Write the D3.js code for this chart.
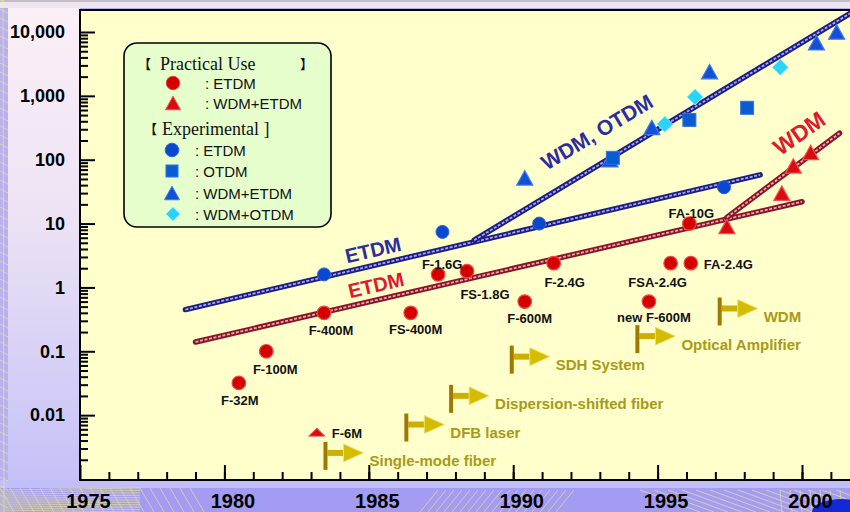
<!DOCTYPE html>
<html lang="en">
<head>
<meta charset="utf-8">
<title>Transmission capacity trend</title>
<script src="https://cdn.jsdelivr.net/npm/d3@7/dist/d3.min.js"></script>
<style>
  body { margin: 0; background: #ffffff; }
  svg { display: block; }
  .tick text { font-family: "Liberation Sans", Arial, sans-serif; font-weight: bold; fill: #000; }
</style>
</head>
<body>
<script>
// ---- data ----
var yearTicks = [1975, 1980, 1985, 1990, 1995, 2000];
var rateTicks = [0.01, 0.1, 1, 10, 100, 1000, 10000];
var rateTickLabels = ["0.01", "0.1", "1", "10", "100", "1,000", "10,000"];

// practical use, ETDM (red circles)
var practicalEtdmNames = ["F-32M", "F-100M", "F-400M", "FS-400M", "F-1.6G", "FS-1.8G", "F-600M", "F-2.4G", "new F-600M", "FSA-2.4G", "FA-2.4G", "FA-10G"];
var practicalEtdmYears = [1980.5, 1981.45, 1983.45, 1986.45, 1987.4, 1988.4, 1990.4, 1991.4, 1994.7, 1995.45, 1996.15, 1996.1];
var practicalEtdmRates = [0.032, 0.1, 0.4, 0.4, 1.6, 1.8, 0.6, 2.4, 0.6, 2.4, 2.4, 10];

// practical use, WDM+ETDM (red triangles)
var practicalWdmNames = ["F-6M", "", "", "", ""];
var practicalWdmYears = [1983.2, 1997.4, 1999.3, 1999.7, 2000.3];
var practicalWdmRates = [0.0054, 9, 30, 80, 130];

// experimental
var expEtdmYears = [1983.45, 1987.55, 1990.9, 1997.3];
var expEtdmRates = [1.6, 7.4, 10, 37];
var expOtdmYears = [1993.45, 1996.1, 1998.1];
var expOtdmRates = [107, 420, 650];
var expWdmEtdmYears = [1990.4, 1993.35, 1994.8, 1996.8, 2000.5, 2001.2];
var expWdmEtdmRates = [52, 100, 320, 2400, 6800, 10000];
var expWdmOtdmYears = [1995.25, 1996.3, 1999.25];
var expWdmOtdmRates = [360, 960, 2800];

// trend lines [year, rate] end points
var trendEtdmExp = [[1978.65, 0.45], [1998.55, 58]];
var trendEtdmPrac = [[1979.0, 0.14], [2000.0, 22]];
var trendWdmOtdm = [[1988.65, 5.5], [2001.7, 20000]];
var trendWdmPrac = [[1997.4, 12.5], [2001.3, 260]];

// technology milestones
var eventNames = ["Single-mode fiber", "DFB laser", "Dispersion-shifted fiber", "SDH System", "Optical Amplifier", "WDM"];
var eventYears = [1983.5, 1986.3, 1987.85, 1989.95, 1994.3, 1997.15];
var eventLevels = [0.0023, 0.0064, 0.018, 0.074, 0.155, 0.42];

// label offsets for the red points [dx, dy, anchor]
var labelOffsets = [[1, 18, "middle"], [9, 18, "middle"], [7, 18, "middle"], [5, 17, "middle"], [4, -10, "middle"],
  [18, 23, "middle"], [5, 17, "middle"], [11, 19, "middle"], [5, 16, "middle"], [-13, 19, "middle"],
  [13, 1, "start"], [2, -10, "middle"]];

var w = 850, h = 512;
var mLeft = 80, mTop = 10, mBottom = 480;

var svg = d3.select("body").append("svg").attr("width", w).attr("height", h);
var defs = svg.append("defs");

var g1 = defs.append("linearGradient").attr("id", "panel").attr("x1", 0).attr("y1", 0).attr("x2", 0).attr("y2", 1);
g1.append("stop").attr("offset", "0%").attr("stop-color", "#fbf0f6");
g1.append("stop").attr("offset", "45%").attr("stop-color", "#ece2f4");
g1.append("stop").attr("offset", "100%").attr("stop-color", "#c4c0f8");

defs.append("clipPath").attr("id", "plotclip").append("rect")
  .attr("x", mLeft).attr("y", mTop).attr("width", w - mLeft).attr("height", mBottom - mTop);

// background
svg.append("rect").attr("width", w).attr("height", h).attr("fill", "#b8b0f0");
svg.append("rect").attr("x", 0).attr("y", 0).attr("width", w).attr("height", 8).attr("fill", "#eee6ee");
svg.append("rect").attr("x", 0).attr("y", 0).attr("width", w).attr("height", 2).attr("fill", "#c4bcc8");
svg.append("rect").attr("x", 8).attr("y", 8).attr("width", mLeft - 8).attr("height", 480).attr("fill", "url(#panel)");
svg.append("rect").attr("x", 0).attr("y", 480).attr("width", w).attr("height", 8).attr("fill", "#c2befa");
svg.append("rect").attr("x", 0).attr("y", 488).attr("width", w).attr("height", 24).attr("fill", "#a49cf2");

// decorative yellow grid lines
var deco = svg.append("g").attr("stroke", "#f2f08a").attr("stroke-width", 0.8).attr("opacity", 0.75);
d3.range(0, 512, 9).forEach(function(v) {
  deco.append("line").attr("x1", 0).attr("y1", v).attr("x2", 8).attr("y2", v + 4);
});
deco.append("line").attr("x1", 3).attr("y1", 0).attr("x2", 4).attr("y2", 512);
d3.range(0, 200, 10).forEach(function(v) {
  deco.append("line").attr("x1", v).attr("y1", 488).attr("x2", v + 14).attr("y2", 512);
});
d3.range(0, 140, 12).forEach(function(v) {
  deco.append("line").attr("x1", 0).attr("y1", 490 + v / 6).attr("x2", 140).attr("y2", 488 + v / 5);
});
d3.range(420, 560, 8).forEach(function(v) {
  deco.append("line").attr("x1", v).attr("y1", 512).attr("x2", v + 18).attr("y2", 490);
});
d3.range(640, 850, 14).forEach(function(v) {
  deco.append("line").attr("x1", v).attr("y1", 490).attr("x2", v + 60).attr("y2", 512);
});
d3.range(780, 850, 10).forEach(function(v) {
  deco.append("line").attr("x1", v).attr("y1", 490).attr("x2", v + 2).attr("y2", 512);
});
svg.append("ellipse").attr("cx", 842).attr("cy", 512).attr("rx", 30).attr("ry", 13).attr("fill", "#1428d8");

// plot area
svg.append("rect").attr("x", mLeft).attr("y", mTop).attr("width", w - mLeft).attr("height", mBottom - mTop).attr("fill", "#ffffcc");

var x = d3.scaleLinear().domain([1975, 2000]).range([80, 802]);
var y = d3.scaleLog().domain([0.001, 10000]).range([479, 32]);

// axes
var minorRates = [];
[0.001, 0.01, 0.1, 1, 10, 100, 1000].forEach(function(d) {
  for (var k = 2; k <= 9; k++) minorRates.push(d * k);
});
var yMinor = d3.axisLeft(y).tickValues(minorRates).tickSize(-8).tickFormat("");
var yMajor = d3.axisLeft(y).tickValues(rateTicks).tickSize(-15).tickPadding(15)
  .tickFormat(function(d, i) { return rateTickLabels[i]; });
svg.append("g").attr("transform", "translate(" + mLeft + ",0)").call(yMinor)
  .call(function(g) { g.select(".domain").remove(); })
  .selectAll("line").attr("stroke", "#000").attr("stroke-width", 2);
var gy = svg.append("g").attr("transform", "translate(" + mLeft + ",0)").call(yMajor);
gy.select(".domain").remove();
gy.selectAll("line").attr("stroke", "#000").attr("stroke-width", 2);
gy.selectAll("text").attr("font-size", "18px").attr("x", -15);

var xMinor = d3.axisBottom(x).tickValues(d3.range(1976, 2002)).tickSize(-8).tickFormat("");
var xMajor = d3.axisBottom(x).tickValues(yearTicks).tickSize(-15).tickPadding(14).tickFormat(d3.format("d"));
svg.append("g").attr("transform", "translate(0," + mBottom + ")").call(xMinor)
  .call(function(g) { g.select(".domain").remove(); })
  .selectAll("line").attr("stroke", "#000").attr("stroke-width", 2);
var gx = svg.append("g").attr("transform", "translate(0," + mBottom + ")").call(xMajor);
gx.select(".domain").remove();
gx.selectAll("line").attr("stroke", "#000").attr("stroke-width", 2);
gx.selectAll("text").attr("font-size", "20px").attr("x", 8);

svg.append("line").attr("x1", mLeft).attr("x2", mLeft).attr("y1", mTop - 1).attr("y2", mBottom + 1).attr("stroke", "#000").attr("stroke-width", 2);
svg.append("line").attr("x1", mLeft - 1).attr("x2", w).attr("y1", mBottom).attr("y2", mBottom).attr("stroke", "#000").attr("stroke-width", 2);
svg.append("line").attr("x1", mLeft - 1).attr("x2", w).attr("y1", mTop).attr("y2", mTop).attr("stroke", "#000").attr("stroke-width", 2);

// trend lines
var plot = svg.append("g").attr("clip-path", "url(#plotclip)");
var line = d3.line().x(function(d) { return x(d[0]); }).y(function(d) { return y(d[1]); });
function chain(data, dark, light) {
  plot.append("path").attr("d", line(data)).attr("fill", "none")
    .attr("stroke", dark).attr("stroke-width", 5.5).attr("stroke-linecap", "round");
  plot.append("path").attr("d", line(data)).attr("fill", "none")
    .attr("stroke", light).attr("stroke-width", 1.8).attr("stroke-dasharray", "3,1.6");
}
chain(trendEtdmExp, "#1c1c8a", "#a8a8e0");
chain(trendWdmOtdm, "#1c1c8a", "#a8a8e0");
chain(trendEtdmPrac, "#8a1426", "#e8a8b0");
chain(trendWdmPrac, "#8a1426", "#e8a8b0");

// trend labels
var trendLabels = [
  {text: "ETDM", year: 1985.15, rate: 3.85, angle: -13, color: "#2c2ca0", size: 20},
  {text: "ETDM", year: 1985.25, rate: 1.09, angle: -13, color: "#e01830", size: 20},
  {text: "WDM, OTDM", year: 1992.9, rate: 272, angle: -31, color: "#2c2ca0", size: 21},
  {text: "WDM", year: 1999.9, rate: 260, angle: -35, color: "#e01830", size: 23}
];
trendLabels.forEach(function(t) {
  svg.append("text")
    .attr("transform", "translate(" + x(t.year) + "," + y(t.rate) + ") rotate(" + t.angle + ")")
    .attr("text-anchor", "middle").attr("dominant-baseline", "central")
    .attr("font-family", "Liberation Sans, Arial, sans-serif").attr("font-weight", "bold")
    .attr("font-size", t.size + "px").attr("fill", t.color).text(t.text);
});

// milestone arrows
eventNames.forEach(function(name, i) {
  var bx = x(eventYears[i]), by = y(eventLevels[i]);
  var g = svg.append("g");
  g.append("rect").attr("x", bx + 2).attr("y", by - 6).attr("width", 20).attr("height", 6).attr("fill", "#ccb000");
  g.append("path").attr("d", "M" + (bx + 18) + "," + (by - 12) + "L" + (bx + 38) + "," + (by - 3) + "L" + (bx + 18) + "," + (by + 6) + "Z")
    .attr("fill", "#d4bc00").attr("stroke", "#ece07a").attr("stroke-width", 1);
  g.append("rect").attr("x", bx - 2).attr("y", by - 14).attr("width", 4).attr("height", 28).attr("fill", "#a07800");
  g.append("text").attr("x", bx + 44).attr("y", by + 5).attr("dominant-baseline", "central")
    .attr("font-family", "Liberation Sans, Arial, sans-serif").attr("font-weight", "bold")
    .attr("font-size", "15px").attr("fill", "#a89a18").text(name);
});

// markers
function triPath(s) {
  var hgt = s * 0.9;
  return "M0," + (-hgt / 2) + "L" + (s / 2) + "," + (hgt / 2) + "L" + (-s / 2) + "," + (hgt / 2) + "Z";
}

var marks = svg.append("g").attr("clip-path", "url(#plotclip)");

marks.selectAll(".bt").data(expWdmEtdmYears).enter().append("path")
  .attr("transform", function(d, i) { return "translate(" + x(d) + "," + y(expWdmEtdmRates[i]) + ")"; })
  .attr("d", triPath(16)).attr("fill", "#1450d4").attr("stroke", "#3a78ee").attr("stroke-width", 1.2);

marks.selectAll(".bs").data(expOtdmYears).enter().append("rect")
  .attr("x", function(d) { return x(d) - 6.5; })
  .attr("y", function(d, i) { return y(expOtdmRates[i]) - 6.5; })
  .attr("width", 13).attr("height", 13).attr("fill", "#0a5cd0").attr("stroke", "#2a78e4").attr("stroke-width", 1);

marks.selectAll(".bd").data(expWdmOtdmYears).enter().append("path")
  .attr("transform", function(d, i) { return "translate(" + x(d) + "," + y(expWdmOtdmRates[i]) + ")"; })
  .attr("d", "M0,-8L8,0L0,8L-8,0Z").attr("fill", "#2ad4f8").attr("stroke", "#8aeeff").attr("stroke-width", 1);

marks.selectAll(".bc").data(expEtdmYears).enter().append("circle")
  .attr("cx", function(d) { return x(d); })
  .attr("cy", function(d, i) { return y(expEtdmRates[i]); })
  .attr("r", 6.5).attr("fill", "#0a48d0").attr("stroke", "#2a64e0").attr("stroke-width", 1);

marks.selectAll(".rt").data(practicalWdmYears).enter().append("path")
  .attr("transform", function(d, i) {
    return "translate(" + x(d) + "," + y(practicalWdmRates[i]) + ")" + (i === 0 ? " scale(1,0.55)" : "");
  })
  .attr("d", triPath(16)).attr("fill", "#d80c10").attr("stroke", "#f25050").attr("stroke-width", 1.2);

marks.selectAll(".rc").data(practicalEtdmYears).enter().append("circle")
  .attr("cx", function(d) { return x(d); })
  .attr("cy", function(d, i) { return y(practicalEtdmRates[i]); })
  .attr("r", 6.8).attr("fill", "#d40000").attr("stroke", "#f04848").attr("stroke-width", 1.2);

// point labels
var labels = svg.append("g").attr("font-family", "Liberation Sans, Arial, sans-serif")
  .attr("font-weight", "bold").attr("font-size", "13px").attr("fill", "#111");
practicalEtdmNames.forEach(function(name, i) {
  var o = labelOffsets[i];
  labels.append("text").attr("x", x(practicalEtdmYears[i]) + o[0]).attr("y", y(practicalEtdmRates[i]) + o[1])
    .attr("text-anchor", o[2]).attr("dominant-baseline", "central").text(name);
});
labels.append("text").attr("x", x(practicalWdmYears[0]) + 15).attr("y", y(practicalWdmRates[0]) + 1)
  .attr("dominant-baseline", "central").text(practicalWdmNames[0]);

// legend
var lg = svg.append("g");
lg.append("rect").attr("x", 124).attr("y", 43).attr("width", 207).attr("height", 184).attr("rx", 13)
  .attr("fill", "#e6fdcc").attr("stroke", "#000").attr("stroke-width", 1.6);
var serif = "Liberation Serif, Times New Roman, serif";
var sans = "Liberation Sans, Arial, sans-serif";
var cjk = "Noto Sans CJK JP, sans-serif";
function ltext(tx, ty, s, font, size, weight) {
  lg.append("text").attr("x", tx).attr("y", ty).attr("dominant-baseline", "central")
    .attr("font-family", font).attr("font-size", size + "px").attr("font-weight", weight || "normal")
    .attr("fill", "#111").text(s);
}
ltext(138, 63, "【", cjk, 13, "bold");
ltext(160, 64, "Practical Use", serif, 18);
ltext(300, 63, "】", cjk, 13, "bold");
ltext(144, 128, "【", cjk, 13, "bold");
ltext(162, 129, "Experimental ]", serif, 18);
lg.append("circle").attr("cx", 173).attr("cy", 83).attr("r", 6.8).attr("fill", "#d40000").attr("stroke", "#f04848");
ltext(205, 83, ": ETDM", sans, 15);
lg.append("path").attr("transform", "translate(173,103)").attr("d", triPath(15)).attr("fill", "#d80c10").attr("stroke", "#f25050");
ltext(205, 103, ": WDM+ETDM", sans, 15);
lg.append("circle").attr("cx", 172).attr("cy", 150).attr("r", 6.8).attr("fill", "#0a48d0").attr("stroke", "#2a64e0");
ltext(195, 150, ": ETDM", sans, 15);
lg.append("rect").attr("x", 166).attr("y", 165).attr("width", 12).attr("height", 12).attr("fill", "#0a5cd0").attr("stroke", "#2a78e4");
ltext(195, 171, ": OTDM", sans, 15);
lg.append("path").attr("transform", "translate(172,193)").attr("d", triPath(15)).attr("fill", "#1450d4").attr("stroke", "#3a78ee");
ltext(195, 193, ": WDM+ETDM", sans, 15);
lg.append("path").attr("transform", "translate(173,214)").attr("d", "M0,-7L7,0L0,7L-7,0Z").attr("fill", "#2ad4f8").attr("stroke", "#8aeeff");
ltext(195, 214, ": WDM+OTDM", sans, 15);
</script>
</body>
</html>
